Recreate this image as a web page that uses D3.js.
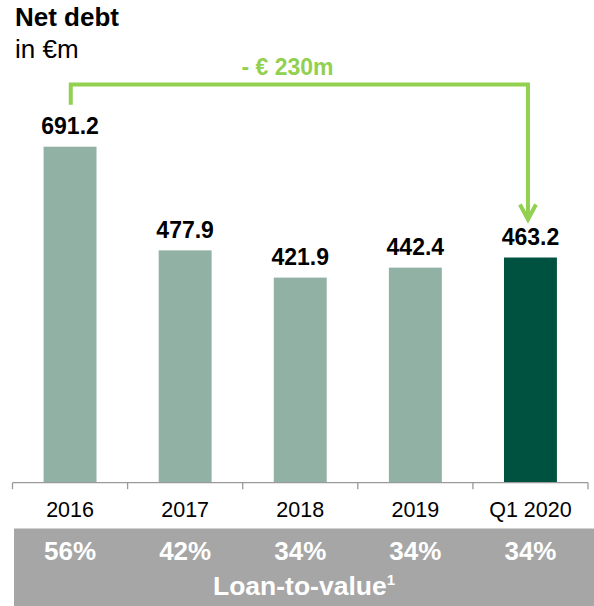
<!DOCTYPE html>
<html>
<head>
<meta charset="utf-8">
<script src="https://cdn.jsdelivr.net/npm/d3@7"></script>
<style>
  html, body { margin: 0; padding: 0; background: #fff; }
  svg { display: block; font-family: "Liberation Sans", Arial, sans-serif; }
</style>
</head>
<body>
<svg id="chart" width="594" height="606"></svg>
<script>
// Net debt per period (in €m) and loan-to-value ratios
const categories = ["2016", "2017", "2018", "2019", "Q1 2020"];
const netDebt = [691.2, 477.9, 421.9, 442.4, 463.2];
const loanToValue = ["56%", "42%", "34%", "34%", "34%"];
const changeLabel = "- € 230m";

const svg = d3.select("#chart");

const axisY = 482.7;
const x = d3.scaleBand()
  .domain(categories)
  .range([12.5, 588])
  .paddingInner(0.54)
  .paddingOuter(0.27);

const y = d3.scaleLinear()
  .domain([0, 700])
  .range([axisY, axisY - 340.3]);

const step = x.step();
const cx = d => x(d) + x.bandwidth() / 2;

// Title
svg.append("text").attr("x", 15).attr("y", 26)
  .attr("font-size", 26).attr("font-weight", "bold").attr("fill", "#000")
  .text("Net debt");
svg.append("text").attr("x", 15).attr("y", 58)
  .attr("font-size", 26).attr("fill", "#000")
  .text("in €m");

// Bars
svg.append("g").selectAll("rect")
  .data(categories)
  .join("rect")
  .attr("x", d => x(d))
  .attr("width", x.bandwidth())
  .attr("y", (d, i) => y(netDebt[i]))
  .attr("height", (d, i) => axisY - y(netDebt[i]))
  .attr("fill", (d, i) => i === categories.length - 1 ? "#005240" : "#91b1a5");

// Value labels
svg.append("g").selectAll("text")
  .data(categories)
  .join("text")
  .attr("x", d => cx(d))
  .attr("y", (d, i) => y(netDebt[i]) - 12.5)
  .attr("text-anchor", "middle")
  .attr("font-size", 23).attr("font-weight", "bold").attr("fill", "#000")
  .text((d, i) => d3.format(".1f")(netDebt[i]));

// Category axis: baseline with ticks at band boundaries
const axisG = svg.append("g").attr("transform", `translate(0,${axisY})`)
  .call(d3.axisBottom(x).tickSize(0).tickFormat(""));
axisG.select(".domain").attr("stroke", "#9a9a9a").attr("stroke-width", 1.3)
  .attr("d", `M${x.range()[0]},0H${x.range()[1]}`);
const bounds = d3.range(categories.length + 1).map(i => x.range()[0] + i * step);
axisG.selectAll(".bound").data(bounds).join("line")
  .attr("class", "bound")
  .attr("x1", d => d).attr("x2", d => d)
  .attr("y1", 0).attr("y2", 6.5)
  .attr("stroke", "#9a9a9a").attr("stroke-width", 1.3);

svg.append("g").selectAll("text")
  .data(categories)
  .join("text")
  .attr("x", d => cx(d))
  .attr("y", 517)
  .attr("text-anchor", "middle")
  .attr("font-size", 21.5).attr("fill", "#000")
  .text(d => d);

// Loan-to-value band
svg.append("rect")
  .attr("x", 14).attr("y", 528.5)
  .attr("width", 594 - 14).attr("height", 606 - 528.5)
  .attr("fill", "#a6a6a6");

svg.append("g").selectAll("text")
  .data(categories)
  .join("text")
  .attr("x", d => cx(d))
  .attr("y", 559.5)
  .attr("text-anchor", "middle")
  .attr("font-size", 26).attr("font-weight", "bold").attr("fill", "#fff")
  .text((d, i) => loanToValue[i]);

const ltv = svg.append("text")
  .attr("x", (14 + 594) / 2).attr("y", 595)
  .attr("text-anchor", "middle")
  .attr("font-size", 26.5).attr("font-weight", "bold").attr("fill", "#fff");
ltv.append("tspan").text("Loan-to-value");
ltv.append("tspan").attr("font-size", 15).attr("dy", -10).text("1");

// Change arrow from first to last period
const green = "#92d050";
const xStart = cx(categories[0]) + 0.7;
const xEnd = cx(categories[categories.length - 1]) - 2.5;
const lineY = 84.5;
const startY = y(netDebt[0]) - 42;
const tipY = y(netDebt[netDebt.length - 1]) - 38;

svg.append("path")
  .attr("d", `M${xStart},${startY}V${lineY}H${xEnd}V${tipY - 1}`)
  .attr("fill", "none").attr("stroke", green).attr("stroke-width", 4)
  .attr("stroke-linejoin", "miter");
svg.append("path")
  .attr("d", `M${xEnd - 8},${tipY - 15}L${xEnd},${tipY}L${xEnd + 8},${tipY - 15}`)
  .attr("fill", "none").attr("stroke", green).attr("stroke-width", 4)
  .attr("stroke-linejoin", "miter");

svg.append("text")
  .attr("x", 287.5).attr("y", 75)
  .attr("text-anchor", "middle")
  .attr("font-size", 23).attr("font-weight", "bold").attr("fill", green)
  .text(changeLabel);
</script>
</body>
</html>
